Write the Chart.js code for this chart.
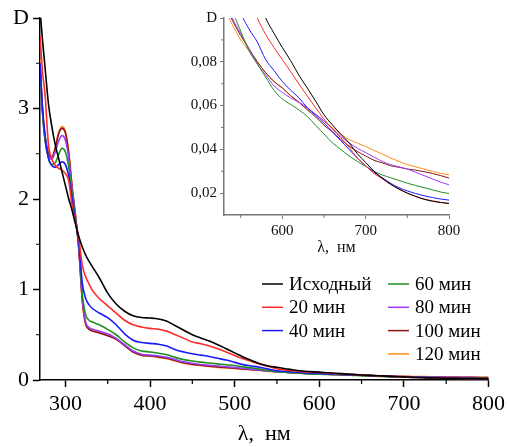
<!DOCTYPE html>
<html>
<head>
<meta charset="utf-8">
<script src="https://cdn.jsdelivr.net/npm/chart.js@4.4.0/dist/chart.umd.min.js"></script>
<style>
html, body { margin: 0; padding: 0; background: #fff; }
#wrap { position: relative; width: 509px; height: 447px; }
#main { position: absolute; left: 0; top: 0; }
#inset { position: absolute; left: 170px; top: 0; }
</style>
</head>
<body>
<div id="wrap">
  <canvas id="main" width="509" height="447" style="width:509px;height:447px"></canvas>
  <canvas id="inset" width="300" height="260" style="width:300px;height:260px"></canvas>
</div>
<script>
// длины волн, нм
const wavelengths = [270, 273, 276, 280, 284, 288, 292, 296, 300, 304, 308, 312, 316, 320, 324, 328, 332,
  340, 350, 360, 370, 380, 390, 400, 410, 420, 430, 440, 450, 460, 470, 480, 490, 500, 510, 520, 530,
  540, 550, 560, 570, 580, 590, 600, 610, 620, 630, 640, 650, 660, 670, 680, 690, 700, 710, 720, 730,
  740, 750, 760, 770, 780, 790, 800];

const seriesLabels = ['Исходный', '20 мин', '40 мин', '60 мин', '80 мин', '100 мин', '120 мин'];
const seriesColors = ['#000000', '#ff2a2a', '#1a1aff', '#1f8f1f', '#9b3cff', '#8b1414', '#ff8c1a'];

const dInit = [4.1, 3.75, 3.45, 3.05, 2.8, 2.6, 2.45, 2.3, 2.15, 2.0, 1.87, 1.72, 1.58, 1.47, 1.38, 1.31, 1.25,
  1.13, 0.96, 0.84, 0.76, 0.71, 0.69, 0.685, 0.675, 0.65, 0.6, 0.55, 0.5, 0.465, 0.43, 0.39, 0.345, 0.3, 0.255, 0.215, 0.18,
  0.155, 0.14, 0.125, 0.11, 0.1, 0.093, 0.0865, 0.0805, 0.0738, 0.068, 0.062, 0.0558, 0.0512, 0.047, 0.043, 0.038, 0.034, 0.030, 0.0268, 0.024,
  0.0218, 0.020, 0.0185, 0.0172, 0.0163, 0.0157, 0.0153];
const d20 = [3.8, 3.4, 3.15, 2.6, 2.44, 2.37, 2.34, 2.32, 2.28, 2.2, 1.92, 1.74, 1.56, 1.27, 1.14, 1.06, 0.99,
  0.90, 0.82, 0.74, 0.66, 0.61, 0.585, 0.57, 0.56, 0.54, 0.5, 0.46, 0.42, 0.4, 0.375, 0.345, 0.31, 0.27, 0.235, 0.205, 0.175,
  0.15, 0.125, 0.11, 0.1, 0.0925, 0.0865, 0.081, 0.0755, 0.0698, 0.0643, 0.059, 0.0538, 0.0493, 0.0453, 0.041, 0.036, 0.0325, 0.029, 0.0265, 0.024,
  0.022, 0.020, 0.0185, 0.0173, 0.0165, 0.0158, 0.0152];
const d40 = [3.5, 3.0, 2.7, 2.45, 2.37, 2.35, 2.38, 2.41, 2.38, 2.25, 2.0, 1.75, 1.5, 1.07, 0.9, 0.83, 0.79,
  0.74, 0.69, 0.61, 0.51, 0.44, 0.415, 0.405, 0.395, 0.375, 0.335, 0.31, 0.29, 0.275, 0.26, 0.24, 0.22, 0.195, 0.17, 0.155, 0.14,
  0.12, 0.103, 0.095, 0.089, 0.081, 0.076, 0.071, 0.067, 0.0635, 0.059, 0.0555, 0.052, 0.048, 0.044, 0.040, 0.036, 0.0325, 0.0295, 0.027, 0.0245,
  0.0225, 0.021, 0.0198, 0.0188, 0.018, 0.0173, 0.0168];
const d60 = [3.45, 2.95, 2.65, 2.45, 2.38, 2.4, 2.49, 2.56, 2.52, 2.35, 2.05, 1.78, 1.5, 0.95, 0.72, 0.66, 0.64,
  0.61, 0.56, 0.5, 0.42, 0.355, 0.32, 0.31, 0.295, 0.28, 0.25, 0.225, 0.21, 0.198, 0.188, 0.178, 0.168, 0.16, 0.145, 0.135, 0.12,
  0.104, 0.094, 0.085, 0.079, 0.073, 0.067, 0.063, 0.0605, 0.058, 0.055, 0.051, 0.047, 0.043, 0.040, 0.037, 0.0345, 0.0322, 0.030, 0.0283, 0.027,
  0.0258, 0.0245, 0.0235, 0.0225, 0.0215, 0.0205, 0.0198];
const d80 = [3.5, 2.95, 2.65, 2.47, 2.44, 2.52, 2.64, 2.70, 2.65, 2.45, 2.1, 1.8, 1.45, 0.9, 0.64, 0.58, 0.56,
  0.54, 0.51, 0.46, 0.39, 0.32, 0.285, 0.275, 0.265, 0.25, 0.225, 0.2, 0.185, 0.172, 0.163, 0.155, 0.147, 0.14, 0.13, 0.12, 0.11,
  0.1, 0.093, 0.086, 0.079, 0.074, 0.069, 0.066, 0.0635, 0.0615, 0.059, 0.056, 0.053, 0.0495, 0.046, 0.043, 0.0405, 0.0385, 0.0365, 0.0345, 0.033,
  0.032, 0.031, 0.0295, 0.028, 0.0265, 0.025, 0.0238];
const d100 = [3.5, 2.98, 2.68, 2.5, 2.46, 2.56, 2.72, 2.78, 2.73, 2.5, 2.12, 1.8, 1.43, 0.88, 0.62, 0.56, 0.54,
  0.52, 0.49, 0.45, 0.38, 0.31, 0.275, 0.265, 0.255, 0.24, 0.215, 0.19, 0.175, 0.163, 0.153, 0.145, 0.138, 0.13, 0.122, 0.115, 0.107,
  0.099, 0.092, 0.086, 0.08, 0.075, 0.071, 0.068, 0.0645, 0.0615, 0.058, 0.0548, 0.051, 0.048, 0.0445, 0.0415, 0.039, 0.037, 0.035, 0.0338, 0.0325,
  0.0318, 0.031, 0.0305, 0.0298, 0.029, 0.028, 0.0269];
const d120 = [3.55, 3.0, 2.7, 2.52, 2.47, 2.57, 2.73, 2.80, 2.75, 2.52, 2.14, 1.82, 1.43, 0.87, 0.61, 0.56, 0.545,
  0.525, 0.495, 0.46, 0.385, 0.31, 0.275, 0.265, 0.25, 0.235, 0.21, 0.185, 0.17, 0.16, 0.15, 0.14, 0.133, 0.127, 0.12, 0.113, 0.105,
  0.097, 0.09, 0.085, 0.08, 0.075, 0.071, 0.068, 0.0645, 0.0615, 0.0585, 0.056, 0.053, 0.05, 0.047, 0.0445, 0.0428, 0.0413, 0.0395, 0.0378, 0.036,
  0.0345, 0.033, 0.032, 0.031, 0.030, 0.029, 0.0284];

const seriesValues = [dInit, d20, d40, d60, d80, d100, d120];

// подписи осей
const mainXTicks = [300, 400, 500, 600, 700, 800];
const mainXMinor = [350, 450, 550, 650, 750];
const mainYTicks = [0, 1, 2, 3, 4];
const mainYMinor = [0.5, 1.5, 2.5, 3.5];
const insetXTicks = [600, 700, 800];
const insetXMinor = [550, 650, 750];
const insetYTicks = [0.02, 0.04, 0.06, 0.08, 0.1];
const insetYMinor = [0.03, 0.05, 0.07, 0.09];

const serif = "'Liberation Serif', 'Times New Roman', serif";

function makeDatasets(width) {
    return seriesValues.map((vals, i) => ({
        label: seriesLabels[i],
        data: wavelengths.map((w, j) => ({ x: w, y: vals[j] })),
        borderColor: seriesColors[i],
        backgroundColor: seriesColors[i],
        borderWidth: width,
        pointRadius: 0,
        fill: false,
        cubicInterpolationMode: 'monotone'
    }));
}

// короткие (малые) деления
const minorTicks = {
    id: 'minorTicks',
    afterDraw(chart, args, opts) {
        const ctx = chart.ctx;
        const sx = chart.scales.x, sy = chart.scales.y;
        ctx.save();
        ctx.strokeStyle = opts.color;
        ctx.lineWidth = opts.width;
        ctx.beginPath();
        opts.x.forEach(v => {
            const px = sx.getPixelForValue(v);
            ctx.moveTo(px, sx.top);
            ctx.lineTo(px, sx.top + opts.len);
        });
        opts.y.forEach(v => {
            const py = sy.getPixelForValue(v);
            ctx.moveTo(sy.right, py);
            ctx.lineTo(sy.right - opts.len, py);
        });
        ctx.stroke();
        ctx.restore();
    }
};

// легенда в две колонки
const twoColLegend = {
    id: 'twoColLegend',
    afterDraw(chart) {
        const ctx = chart.ctx;
        ctx.save();
        ctx.font = '19px ' + serif;
        ctx.textBaseline = 'middle';
        ctx.textAlign = 'left';
        chart.data.datasets.forEach((ds, i) => {
            const col = i < 3 ? 0 : 1;
            const row = i < 3 ? i : i - 3;
            const x = col === 0 ? 262 : 388;
            const y = 284 + row * 23.3;
            ctx.strokeStyle = ds.borderColor;
            ctx.lineWidth = 1.5;
            ctx.beginPath();
            ctx.moveTo(x, y);
            ctx.lineTo(x + 21, y);
            ctx.stroke();
            ctx.fillStyle = '#000';
            ctx.fillText(ds.label, x + 27, y + 1);
        });
        ctx.restore();
    }
};

const whiteBg = {
    id: 'whiteBg',
    beforeDraw(chart) {
        const ctx = chart.ctx;
        ctx.save();
        ctx.fillStyle = '#fff';
        ctx.fillRect(0, 0, chart.width, chart.height);
        ctx.restore();
    }
};

new Chart(document.getElementById('main'), {
    type: 'line',
    data: { datasets: makeDatasets(1.6) },
    options: {
        responsive: false,
        animation: false,
        events: [],
        layout: { padding: { top: 18, right: 18, left: 0, bottom: 0 } },
        plugins: {
            legend: { display: false },
            tooltip: { enabled: false },
            minorTicks: { x: mainXMinor, y: mainYMinor, len: 4, color: '#000', width: 1.2 }
        },
        scales: {
            x: {
                type: 'linear', min: 270, max: 800,
                afterBuildTicks: s => { s.ticks = mainXTicks.map(v => ({ value: v })); },
                afterFit: s => { s.height = 67; },
                grid: { drawOnChartArea: false, drawTicks: true, tickLength: 7, tickColor: '#000', tickWidth: 1.5 },
                border: { display: true, color: '#000', width: 1.5 },
                ticks: { font: { family: serif, size: 22 }, color: '#000', padding: 4, maxRotation: 0, autoSkip: false },
                title: { display: true, text: 'λ,  нм', font: { family: serif, size: 22 }, color: '#000', padding: { top: 0, bottom: 0 } }
            },
            y: {
                type: 'linear', min: 0, max: 4,
                afterBuildTicks: s => { s.ticks = mainYTicks.map(v => ({ value: v })); },
                afterFit: s => { s.width = 40; },
                grid: { drawOnChartArea: false, drawTicks: true, tickLength: 7, tickColor: '#000', tickWidth: 1.5 },
                border: { display: true, color: '#000', width: 1.5 },
                ticks: {
                    font: { family: serif, size: 22 }, color: '#000', padding: 4, autoSkip: false,
                    callback: v => (v === 4 ? 'D' : String(v))
                }
            }
        }
    },
    plugins: [whiteBg, minorTicks, twoColLegend]
});

new Chart(document.getElementById('inset'), {
    type: 'line',
    data: { datasets: makeDatasets(1) },
    options: {
        responsive: false,
        animation: false,
        events: [],
        layout: { padding: { top: 18, right: 21, left: 0, bottom: 0 } },
        plugins: {
            legend: { display: false },
            tooltip: { enabled: false },
            minorTicks: { x: insetXMinor, y: insetYMinor, len: 3, color: '#777', width: 1 }
        },
        scales: {
            x: {
                type: 'linear', min: 530, max: 800,
                afterBuildTicks: s => { s.ticks = insetXTicks.map(v => ({ value: v })); },
                afterFit: s => { s.height = 45; },
                grid: { drawOnChartArea: false, drawTicks: true, tickLength: 4, tickColor: '#777', tickWidth: 1 },
                border: { display: true, color: '#777', width: 1.5 },
                ticks: { font: { family: serif, size: 15 }, color: '#111', padding: 3, maxRotation: 0, autoSkip: false },
                title: { display: true, text: 'λ,  нм', font: { family: serif, size: 16 }, color: '#111', padding: { top: 0, bottom: 3 } }
            },
            y: {
                type: 'linear', min: 0.01, max: 0.1,
                afterBuildTicks: s => { s.ticks = insetYTicks.map(v => ({ value: v })); },
                afterFit: s => { s.width = 54; },
                grid: { drawOnChartArea: false, drawTicks: true, tickLength: 4, tickColor: '#777', tickWidth: 1 },
                border: { display: true, color: '#777', width: 1.5 },
                ticks: {
                    font: { family: serif, size: 15 }, color: '#111', padding: 3, autoSkip: false,
                    callback: v => (Math.abs(v - 0.1) < 1e-9 ? 'D' : v.toFixed(2).replace('.', ','))
                }
            }
        }
    },
    plugins: [minorTicks]
});
</script>
</body>
</html>
